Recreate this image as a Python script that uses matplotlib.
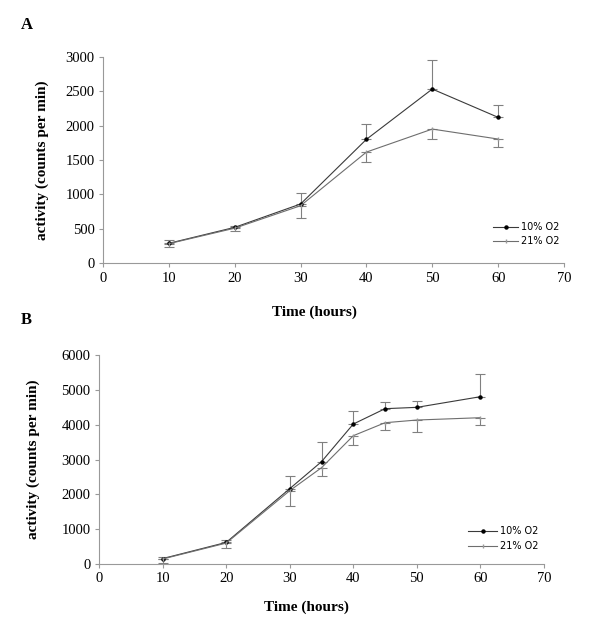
import matplotlib.pyplot as plt
from matplotlib.lines import Line2D
import numpy as np

# panel A
hours_a = [10, 20, 30, 40, 50, 60]
low_o2_a = [290, 522, 861, 1800, 2530, 2119]
low_o2_a_up = [338, 545, 1016, 2026, 2946, 2293]
high_o2_a = [285, 510, 836, 1615, 1949, 1804]
high_o2_a_lo = [237, 469, 657, 1466, 1800, 1684]

# panel B
hours_b = [10, 20, 30, 35, 40, 45, 50, 60]
low_o2_b = [155, 619, 2163, 2938, 4019, 4460, 4498, 4804]
low_o2_b_up = [195, 686, 2517, 3493, 4383, 4642, 4680, 5449]
high_o2_b = [144, 600, 2105, 2765, 3684, 4057, 4134, 4201]
high_o2_b_lo = [37, 448, 1675, 2517, 3417, 3838, 3790, 3991]

labels = ["10% O2", "21% O2"]

serif = "Liberation Serif"
axis_grey = "#999999"
style_10 = dict(color="#3a3a3a", lw=0.8, marker="o", ms=2.2, mfc="black", mec="black")
style_21 = dict(color="#6e6e6e", lw=0.8, marker="|", ms=2.5, mec="#9a9a9a")


def draw_panel(ax, x, m1, up1, m2, lo2, ymax, ystep):
    m1, up1, m2, lo2 = map(np.array, (m1, up1, m2, lo2))
    zeros = np.zeros(len(x))
    ax.errorbar(x, m1, yerr=[zeros, up1 - m1], ecolor="#808080",
                elinewidth=0.8, capsize=3.5, capthick=0.8, **style_10)
    ax.errorbar(x, m2, yerr=[m2 - lo2, zeros], ecolor="#808080",
                elinewidth=0.8, capsize=3.5, capthick=0.8, **style_21)
    ax.set_xlim(0, 70)
    ax.set_ylim(0, ymax)
    ax.set_xticks(range(0, 71, 10))
    ax.set_yticks(np.arange(0, ymax + 1, ystep))
    for s in ["top", "right"]:
        ax.spines[s].set_visible(False)
    for s in ["left", "bottom"]:
        ax.spines[s].set_color(axis_grey)
        ax.spines[s].set_linewidth(0.8)
    ax.tick_params(direction="out", length=3, width=0.8, color=axis_grey,
                   labelsize=10.5, pad=3)
    for lab in ax.get_xticklabels() + ax.get_yticklabels():
        lab.set_fontfamily(serif)
    ax.set_xlabel("Time (hours)", fontfamily=serif, fontweight="bold", fontsize=11)
    ax.set_ylabel("activity (counts per min)", fontfamily=serif, fontweight="bold", fontsize=11)


def add_legend(ax, anchor, hl, spacing):
    handles = [Line2D([], [], **style_10), Line2D([], [], **style_21)]
    ax.legend(handles, labels, loc="upper left", bbox_to_anchor=anchor, frameon=False,
              prop={"family": "DejaVu Sans", "size": 7}, borderpad=0, borderaxespad=0,
              handlelength=hl, handletextpad=0.25, labelspacing=spacing)


fig = plt.figure(figsize=(6, 6.34), dpi=100)

ax_a = fig.add_axes([0.1717, 0.5847, 0.7683, 0.3259])
draw_panel(ax_a, hours_a, low_o2_a, low_o2_a_up, high_o2_a, high_o2_a_lo, 3000, 500)
ax_a.xaxis.set_label_coords(0.458, -0.205)
ax_a.yaxis.set_label_coords(-0.117, 0.5)
add_legend(ax_a, (0.846, 0.2), 2.6, 0.45)

ax_b = fig.add_axes([0.165, 0.1104, 0.7417, 0.3296])
draw_panel(ax_b, hours_b, low_o2_b, low_o2_b_up, high_o2_b, high_o2_b_lo, 6000, 1000)
ax_b.xaxis.set_label_coords(0.467, -0.175)
ax_b.yaxis.set_label_coords(-0.133, 0.5)
add_legend(ax_b, (0.829, 0.182), 3.0, 0.55)

fig.text(27 / 600, 1 - 25 / 634, "A", fontfamily=serif, fontweight="bold",
         fontsize=12, ha="center", va="center")
fig.text(26 / 600, 1 - 320 / 634, "B", fontfamily=serif, fontweight="bold",
         fontsize=12, ha="center", va="center")

fig.savefig("out.png", dpi=100)
